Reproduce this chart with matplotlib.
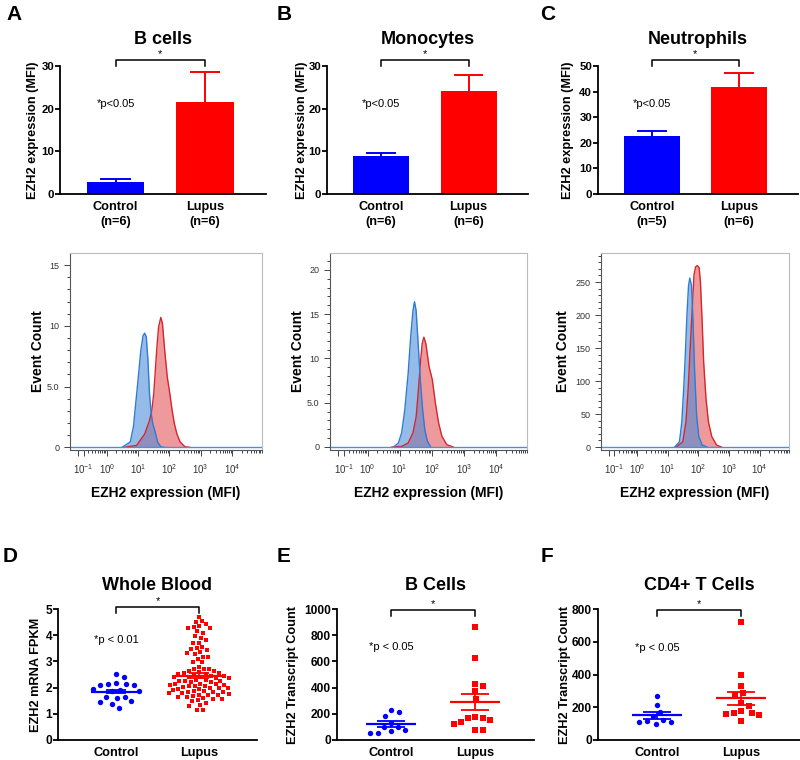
import numpy as np
import matplotlib
matplotlib.use("Agg")
import matplotlib.pyplot as plt

plt.rcParams['font.family'] = ['Liberation Sans', 'DejaVu Sans']
plt.rcParams['mathtext.fontset'] = 'custom'
plt.rcParams['mathtext.rm'] = 'Liberation Sans'

# ---------------- data ----------------
groups = ["Control", "Lupus"]

# top row bar charts (mean, upper error)
bar_titles = ["B cells", "Monocytes", "Neutrophils"]
bar_n = [[6, 6], [6, 6], [5, 6]]
bar_means = [[2.7, 21.5], [9.0, 24.1], [22.6, 41.9]]
bar_errs = [[0.9, 7.0], [0.6, 3.7], [2.1, 5.3]]
bar_ymax = [30, 30, 50]

# flow histograms (MFI, event count)
hA_ctrl_mfi = [3.1, 5.7, 7.2, 8.5, 10.3, 12.4, 14.6, 16.4, 18.5, 20.8, 23.4, 26.4, 29.7, 33.4, 37.6, 42.3, 53.6, 67.8]
hA_ctrl_cnt = [0, 0.44, 1.7, 3.6, 5.8, 8.0, 9.2, 9.4, 9.1, 7.2, 4.4, 2.8, 1.95, 1.5, 1.0, 0.44, 0.05, 0]
hA_lup_mfi = [3.6, 9.1, 16.4, 23.4, 27.7, 31.9, 35.9, 40.4, 45.5, 53.6, 60.4, 71.2, 86, 104, 123, 145, 175, 221, 315, 449]
hA_lup_cnt = [0, 0.16, 1.1, 2.2, 3.05, 4.4, 6.35, 8.3, 9.9, 10.7, 10.2, 8.0, 5.8, 4.4, 3.05, 1.95, 1.1, 0.44, 0.05, 0]

hB_ctrl_mfi = [6.5, 9.1, 11.5, 14.4, 18.3, 21.9, 25.8, 28.8, 32.4, 36.4, 43.7, 51.6, 60.5, 72.8, 91.7]
hB_ctrl_cnt = [0, 0.45, 1.6, 4.2, 8.3, 12.4, 15.4, 16.4, 15.4, 12.4, 7.6, 4.2, 1.9, 0.64, 0]
hB_lup_mfi = [5.75, 11.5, 18.3, 25.8, 32.4, 38, 43.7, 50.1, 56.3, 64.8, 81.4, 103, 129, 162, 205, 290, 458]
hB_lup_cnt = [0, 0.07, 0.45, 1.6, 3.4, 6.4, 9.4, 11.7, 12.4, 11.7, 9.1, 7.6, 4.9, 2.7, 1.2, 0.26, 0]

hC_ctrl_mfi = [17.1, 24.5, 29.2, 33.7, 37.9, 42.9, 48.4, 53.2, 60.3, 67.7, 76.5, 88.4, 104, 134, 192]
hC_ctrl_cnt = [0, 8, 38, 89, 139, 200, 245, 256, 245, 190, 114, 48, 16, 3, 0]
hC_lup_mfi = [19.3, 31.4, 39.9, 47.1, 54.5, 64.7, 72.8, 82.2, 92.9, 107, 118, 134, 150, 179, 215, 275, 395, 569]
hC_lup_cnt = [0, 8, 38, 89, 149, 215, 261, 273, 275, 272, 250, 190, 129, 73, 38, 16, 3, 0]

hist_yticks = [[0, 5, 10, 15], [0, 5, 10, 15, 20], [0, 50, 100, 150, 200, 250]]
hist_ylabels = [["0", "5.0", "10", "15"], ["0", "5.0", "10", "15", "20"],
                ["0", "50", "100", "150", "200", "250"]]
hist_ylim = [(-0.22, 16), (-0.34, 21.9), (-4.5, 294)]
hist_minor = [1, 1, 10]

# bottom row dot plots
wb_ctrl = [2.51, 2.42, 2.10, 2.19, 2.14, 2.09, 2.12, 1.91, 1.86, 1.86, 1.94,
           1.63, 1.62, 1.66, 1.45, 1.47, 1.36, 1.21]
wb_lupus = [4.70, 4.51, 4.53, 4.42, 4.34, 4.32, 4.28, 4.28, 4.09, 4.15, 3.90,
            3.80, 3.96, 3.70, 3.70, 3.54, 3.51, 3.45, 3.47, 3.32, 3.30, 3.35,
            3.09, 3.17, 3.17, 2.96, 2.96, 2.79, 2.71, 2.64, 2.71, 2.72, 2.62,
            2.58, 2.56, 2.55, 2.53, 2.52, 2.50,
            2.45, 2.44, 2.42, 2.41, 2.40, 2.38, 2.37,
            2.30, 2.29, 2.27, 2.26, 2.25, 2.23, 2.22,
            2.15, 2.14, 2.12, 2.11, 2.10, 2.08, 2.07, 2.05,
            2.02, 2.00, 1.98, 1.97, 1.95, 1.94, 1.92,
            1.88, 1.86, 1.85, 1.83, 1.82, 1.80, 1.78, 1.77,
            1.73, 1.71, 1.70, 1.68, 1.66, 1.64,
            1.60, 1.58, 1.56, 1.53,
            1.47, 1.43, 1.30, 1.34, 1.16, 1.15]
bc_ctrl = [213, 226, 182, 133, 97, 103, 77, 67, 51, 54]
bc_lupus = [859, 628, 431, 415, 372, 315, 169, 149, 123, 136, 169, 174, 77, 77]
t4_ctrl = [268, 216, 171, 146, 124, 109, 99, 109, 115]
t4_lupus = [722, 398, 330, 285, 274, 223, 177, 165, 161, 167, 208, 150, 115]

dot_titles = ["Whole Blood", "B Cells", "CD4+ T Cells"]
dot_ylabels = ["EZH2 mRNA FPKM", "EZH2 Transcript Count", "EZH2 Transcript Count"]
dot_values = [(wb_ctrl, wb_lupus), (bc_ctrl, bc_lupus), (t4_ctrl, t4_lupus)]
dot_means = [[1.85, 2.46], [123, 290], [150, 254]]
dot_sems = [[0.07, 0.08], [23, 62], [20, 41]]
dot_ymax = [5, 1000, 800]
dot_ystep = [1, 200, 200]
pvals = ["*p<0.05", "*p<0.05", "*p<0.05", "*p < 0.01", "*p < 0.05", "*p < 0.05"]

# ---------------- figure ----------------
W, H = 800, 760
fig = plt.figure(figsize=(W / 100, H / 100), dpi=100)
BLUE, RED = "#0000ff", "#ff0000"


def add_ax(x0, y0, x1, y1):
    return fig.add_axes([x0 / W, 1 - y1 / H, (x1 - x0) / W, (y1 - y0) / H])


def ftext(x, y, s, **kw):
    fig.text(x / W, 1 - y / H, s, **kw)


def ylabel_at(ax, dx_px):
    # dx_px: where the centre of the y label should sit, in px left of the spine
    w = ax.get_position().width * W
    ax.yaxis.set_label_coords((dx_px + 6) / w, 0.5)


def gp_style(ax, lsize):
    for s in ["top", "right"]:
        ax.spines[s].set_visible(False)
    for s in ["left", "bottom"]:
        ax.spines[s].set_linewidth(1.3)
    ax.tick_params(axis="y", direction="out", length=3.5, width=1.3, labelsize=lsize, pad=0.8)
    ax.tick_params(axis="x", length=0, labelsize=9.2, pad=5)


def bracket(ax, y_bar, y_end):
    tr = ax.get_xaxis_transform()
    ax.plot([0, 0, 1, 1], [y_end, y_bar, y_bar, y_end], color="black", lw=1.1,
            transform=tr, clip_on=False)
    ax.text(0.5, y_bar + 0.005, "*", transform=tr, ha="center", va="bottom", fontsize=8)


def swarm(ax, vals, center, diam):
    # simple beeswarm in pixel space
    ppx = ax.transData.transform((1, 0))[0] - ax.transData.transform((0, 0))[0]
    ys = [ax.transData.transform((center, v))[1] for v in vals]
    placed, xs = [], []
    for y in ys:
        k = 0
        while True:
            off = ((k + 1) // 2) * (1 if k % 2 else -1) * 0.5
            ok = True
            for px, py in placed:
                dy = abs(y - py)
                if dy < diam and abs(off - px) < np.sqrt(diam ** 2 - dy ** 2):
                    ok = False
                    break
            if ok:
                break
            k += 1
        placed.append((off, y))
        xs.append(center + off / ppx)
    return xs


# --- top row bars ---
bar_boxes = [(60, 266), (327, 528), (598, 798)]
bar_ylab = [-27, -25, -30]
letters_top = [("A", 14), ("B", 284), ("C", 548)]
for i in range(3):
    x0, x1 = bar_boxes[i]
    ax = add_ax(x0, 66, x1, 194)
    gp_style(ax, 8.2)
    xs = np.arange(2)
    ax.bar(xs, bar_means[i], width=0.64, color=[BLUE, RED], lw=0)
    for j in range(2):
        top = bar_means[i][j] + bar_errs[i][j]
        ax.vlines(xs[j], bar_means[i][j], top, color=[BLUE, RED][j], lw=1.4)
        ax.hlines(top, xs[j] - 0.17, xs[j] + 0.17, color=[BLUE, RED][j], lw=1.4)
    ax.set_xlim(-0.62, 1.68)
    ax.set_ylim(0, bar_ymax[i])
    ax.set_yticks(np.arange(0, bar_ymax[i] + 1, 10))
    ax.set_yticklabels([str(v) for v in np.arange(0, bar_ymax[i] + 1, 10)], fontweight="bold")
    ax.set_xticks(xs)
    ax.set_xticklabels(["%s\n(n=%d)" % (g, n) for g, n in zip(groups, bar_n[i])],
                       fontweight="bold", linespacing=1.3)
    ax.set_ylabel("EZH2 expression (MFI)", fontsize=9.2, fontweight="bold")
    ylabel_at(ax, bar_ylab[i])
    bracket(ax, 1.047, 1.0)
    ax.text(0, bar_ymax[i] * 0.7, pvals[i], ha="center", va="center", fontsize=8)
    ftext((x0 + x1) / 2, 40, bar_titles[i], ha="center", va="center", fontsize=13, fontweight="bold")
    ftext(letters_top[i][1], 14, letters_top[i][0], ha="center", va="center", fontsize=15, fontweight="bold")

# --- middle row histograms ---
def fwd(x):
    return np.arcsinh(np.asarray(x) / 0.25)


def inv(y):
    return 0.25 * np.sinh(np.asarray(y))


hist_boxes = [(70, 262), (330, 527), (601, 789)]
hist_data = [(hA_ctrl_mfi, hA_ctrl_cnt, hA_lup_mfi, hA_lup_cnt),
             (hB_ctrl_mfi, hB_ctrl_cnt, hB_lup_mfi, hB_lup_cnt),
             (hC_ctrl_mfi, hC_ctrl_cnt, hC_lup_mfi, hC_lup_cnt)]
hist_ylab = [-31, -31, -37]
decades = [0.1, 1, 10, 100, 1000, 10000]
minor_x = [k * d for d in decades for k in range(2, 10)]
for i in range(3):
    x0, x1 = hist_boxes[i]
    ax = add_ax(x0, 253, x1, 450)
    ax.set_xscale("function", functions=(fwd, inv))
    ax.set_xlim(-0.16, 4.5e4)
    ax.set_ylim(*hist_ylim[i])
    cm, cc, lm, lc = hist_data[i]
    ax.fill_between(lm, lc, color="#e0474b", alpha=0.55, lw=0)
    ax.fill_between(cm, cc, color="#3f86d8", alpha=0.55, lw=0)
    ax.plot(lm, lc, color="#d7262b", lw=1.0)
    ax.plot(cm, cc, color="#2f7ad6", lw=1.0)
    ax.axhline(0, color="#4a8fe0", lw=1.0)
    ax.set_xticks([0] + decades)
    ax.set_xticklabels([""] + [r"$10^{%d}$" % p for p in range(-1, 5)])
    ax.set_xticks(minor_x, minor=True)
    ax.set_yticks(hist_yticks[i])
    ax.set_yticklabels(hist_ylabels[i])
    ax.set_yticks(np.arange(0, hist_ylim[i][1], hist_minor[i]), minor=True)
    ax.tick_params(which="both", direction="out", colors="#444", labelsize=6.5,
                   labelcolor="#333", width=0.7)
    ax.tick_params(which="major", length=4)
    ax.tick_params(which="minor", length=2)
    ax.tick_params(axis="x", pad=5, labelsize=7)
    for s in ["top", "right"]:
        ax.spines[s].set_color("#bbbbbb")
    for s in ["left", "bottom"]:
        ax.spines[s].set_color("#555555")
    for s in ax.spines.values():
        s.set_linewidth(0.8)
    ax.set_ylabel("Event Count", fontsize=10, fontweight="bold")
    ylabel_at(ax, hist_ylab[i])
    ax.set_xlabel("EZH2 expression (MFI)", fontsize=10, fontweight="bold")
    ax.xaxis.set_label_coords(0.5, -0.183)

# --- bottom row dot plots ---
dot_boxes = [(58, 257, -0.7, 1.7), (337, 534, -0.64, 1.7), (598, 800, -0.7, 1.7)]
dot_ylab = [-22, -44, -33]
letters_bot = [("D", 10), ("E", 284), ("F", 547)]
diams = [(8.0, 5.3), (8.0, 7.5), (8.0, 7.5)]
for i in range(3):
    x0, x1, xl0, xl1 = dot_boxes[i]
    ax = add_ax(x0, 609, x1, 740)
    gp_style(ax, 8.6)
    ax.set_xlim(xl0, xl1)
    ax.set_ylim(0, dot_ymax[i])
    ticks = np.arange(0, dot_ymax[i] + 1, dot_ystep[i])
    ax.set_yticks(ticks)
    ax.set_yticklabels([str(t) for t in ticks], fontweight="bold")
    ax.set_xticks([0, 1])
    ax.set_xticklabels(groups, fontweight="bold")
    ctrl, lup = dot_values[i]
    ctrl_s = sorted(ctrl, reverse=True)
    lup_s = sorted(lup, reverse=True)
    dc, dl = diams[i]
    ax.scatter(swarm(ax, ctrl_s, 0, dc), ctrl_s, s=15, color=BLUE, marker="o", lw=0, zorder=3)
    ax.scatter(swarm(ax, lup_s, 1, dl), lup_s, s=14 if i else 11, color=RED, marker="s", lw=0, zorder=3)
    for j, c in enumerate([BLUE, RED]):
        m, e = dot_means[i][j], dot_sems[i][j]
        ax.hlines(m, j - 0.3, j + 0.3, color=c, lw=1.6, zorder=4)
        ax.errorbar(j, m, yerr=e, fmt="none", ecolor=c, elinewidth=1.3,
                    capsize=7 if i == 0 else 10, capthick=1.3, zorder=4)
    ax.set_ylabel(dot_ylabels[i], fontsize=9.2, fontweight="bold")
    ylabel_at(ax, dot_ylab[i])
    if i == 0:
        bracket(ax, 1.015, 0.97)
    else:
        bracket(ax, 0.995, 0.95)
    ax.text(0, dot_ymax[i] * (0.765 if i == 0 else 0.712 if i == 1 else 0.704), pvals[3 + i],
            ha="center", va="center", fontsize=8)
    ftext((x0 + x1) / 2, 585, dot_titles[i], ha="center", va="center", fontsize=13, fontweight="bold")
    ftext(letters_bot[i][1], 556, letters_bot[i][0], ha="center", va="center", fontsize=15, fontweight="bold")

fig.savefig("out.png", dpi=100)
